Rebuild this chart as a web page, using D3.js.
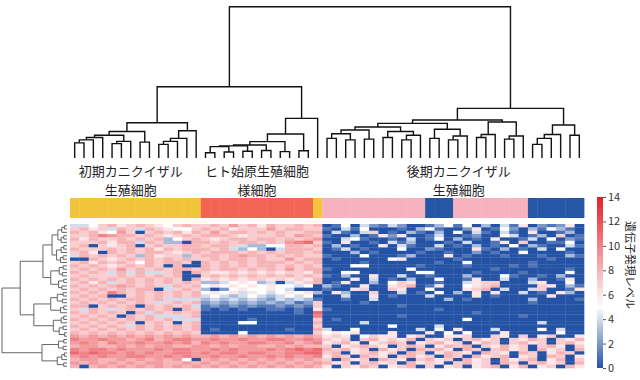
<!DOCTYPE html>
<html>
<head>
<meta charset="utf-8">
<script src="https://cdn.jsdelivr.net/npm/d3@7"></script>
<style>
  body { margin: 0; background: #fff; }
  text { font-family: "Noto Sans CJK JP", "Noto Sans", sans-serif; }
</style>
</head>
<body>
<svg width="640" height="380"></svg>
<script>
// column groups (annotation bar), left to right
var annoSegments = [["E", 14], ["H", 12], ["E", 1], ["P", 11], ["B", 3], ["P", 8], ["B", 6]];
var annoColors = { E: "#f2c43b", H: "#f26552", P: "#f7b2c0", B: "#2656a6" };

// group labels (two lines each) and their column centre
var groupLabels = [["初期カニクイザル", "生殖細胞"], ["ヒト始原生殖細胞", "様細胞"], ["後期カニクイザル", "生殖細胞"]];
var labelCenters = [6.5, 20, 41.6];

// colour bar ticks
var legendTicks = [0, 2, 4, 6, 8, 10, 12, 14];
var legendTitle = "遺伝子発現レベル";

// expression level per gene (row) x sample (column), hex digit 0..e = 0..14
// blocks: early(14) | hPGCLC(12) | 1 | late(28)
var exprRows = [
  "4457867 8765787|787978 687787|8|0150421 4200135 1503041 6021260",
  "7867487 4876557|878677 797887|7|1041500 0103510 0260152 0315310",
  "8786597 0787868|797887 878778|8|0410470 1031030 5041041 0600130",
  "778a988 7876787|888767 778798|7|1003016 2600140 0120054 0130701",
  "8687787 8783578|767887 887878|9|0045100 1040150 3010600 1405021",
  "7778688 4873308|878788 7879ab|7|1060010 4130001 0400160 7001150",
  "7807678 0787788|788743 355887|8|0301006 0410040 1030105 0310041",
  "8777878 7868788|878435 304888|7|0140100 0500210 0061030 1040500",
  "7860878 7887678|788878 787887|8|0003010 0001001 0020100 5000010",
  "4878787 3867737|887898 878787|7|1000500 0130006 0100010 0010031",
  "0087678 7878787|787887 877978|8|0100000 5600000 1000000 0001000",
  "7868787 5878870|878787 888787|8|0000100 0000010 0500000 0100000",
  "8787678 7870800|878787 887878|7|0005500 0001000 0100001 0100000",
  "7878797 8787887|878878 787978|8|1000000 0050000 0000100 0000010",
  "8787484 8447808|766767 676776|8|0055000 0005500 0010000 1000050",
  "7877787 8787800|787878 787878|7|1030060 0400100 0300051 0010300",
  "8787878 7878708|676767 767676|8|0006040 1030050 0160040 0300160",
  "7868478 7878787|334565 340467|8|0160030 5760010 0467700 0460050",
  "8787898 7874878|565656 565545|0|3100600 6780160 0567800 0076031",
  "7878787 8804787|302565 565400|0|1006700 7600500 0678040 0470016",
  "8787a87 8787878|565646 545656|3|0630070 0401050 3060600 4010630",
  "7878007 8787878|454345 434545|0|0040060 1000400 0060100 0006000",
  "8787878 8784444|343434 324343|1|0010040 0000003 0100000 0300001",
  "7878787 8747878|232323 232312|7|0000100 0000000 0000000 0100000",
  "8807878 0878784|121212 112121|7|0000000 0100000 0000000 0000000",
  "7487478 7878087|101010 011010|6|1000000 0000010 0000000 0000000",
  "8787870 8487878|000000 000010|b|0000000 0000000 0010000 0000000",
  "7878708 7844478|000000 000000|a|0000000 0100000 0000000 1000000",
  "8787878 7878444|000001 000000|7|0100000 0000000 0500000 0000000",
  "7878787 0787078|000055 000000|8|0000400 0000000 0000000 0040000",
  "8787874 8787878|000000 000000|7|0000000 5000040 0000000 0000000",
  "7878787 8787878|010000 000100|8|4005000 0004050 6000400 0050400",
  "8787878 7878787|000050 000000|7|5656000 6000605 0500060 0000500",
  "9898989 8989898|898989 898989|8|6760576 6067006 6700760 7067006",
  "a99a998 9a89aa9|9a99a9 9aa99a|9|7670786 7680767 0786707 6870768",
  "9a98a99 a99a9a8|a9a99a a99a89|a|6786067 8706786 7068707 8670786",
  "8998898 9899889|989899 889898|8|7067876 0787068 7807686 7078607",
  "a9aa9a9 99a9aa9|9a9a99 9a9aba|b|8786708 6708786 0870786 7086708",
  "babaa9a 9a99aa9|a9aa9a a99aab|b|7806786 7087068 7608760 8706870",
  "9a9a99a a99a9a9|9a99a9 9a9a99|a|6870876 0786708 7086780 6708706",
  "8998898 9898950|898989 898989|8|7086708 7607867 0867086 7806807",
  "9898989 8998898|989898 989898|9|8670786 7086760 7867087 0786708",
  "8089898 9898989|898989 898989|8|6076870 6780706 7067806 8067086"
];

// sample dendrogram: [left, right, height], leaf = column index
var colTree = [
  [
    [
      [[[[[0, 1, 1.0], 2, 1.2], 3, 1.35], [[4, 5, 0.95], 6, 1.1], 1.5], [7, 8, 1.05], 1.75],
      [[[[9, 10, 0.9], 11, 1.1], 12, 1.3], 13, 1.8],
      2.33
    ],
    [
      [[[[[[14, 15, 0.35], [16, 17, 0.4], 0.75], [18, 19, 0.45], 0.8], [20, 21, 0.5], 0.86], [22, 23, 0.42], 1.08], [24, 25, 0.48], 1.59],
      26,
      2.62
    ],
    4.71
  ],
  [
    [
      [
        [[[[27, 28, 1.3], [29, 30, 1.2], 1.6], [31, 32, 1.25], 1.85], [[33, 34, 1.35], [[35, 36, 1.2], 37, 1.5], 1.75], 2.05],
        [[38, 39, 1.3], [[40, 41, 1.2], 42, 1.45], 1.9],
        2.29
      ],
      [[[43, 44, 1.35], 45, 1.55], [[46, 47, 1.25], 48, 1.45], 2.38],
      2.51
    ],
    [[[[49, 50, 0.9], 51, 1.3], 52, 1.55], [53, 54, 1.5], 2.18],
    3.28
  ],
  10
];

// gene dendrogram: [top, bottom, height], leaf = row index
var rowTree = [
  [
    [
      [[[[0, 1, 0.4], 2, 0.8], [[3, 4, 0.5], 5, 0.9], 1.4], [[[6, 7, 0.5], 8, 0.9], [[9, 10, 0.6], 11, 1.0], 1.6], 2.3],
      [[[12, 13, 0.6], [14, 15, 0.7], 1.2], [[16, 17, 0.5], [18, 19, 0.8], 1.3], 2.5],
      3.7
    ],
    [
      [[[20, 21, 0.6], [22, 23, 0.7], 1.5], [[24, 25, 0.5], 26, 1.0], 2.5],
      [[[27, 28, 0.5], 29, 0.9], [[30, 31, 0.6], [32, 33, 0.4], 1.2], 2.1],
      5.1
    ],
    7.2
  ],
  [[[34, 35, 0.5], [36, 37, 0.6], 1.3], [[[38, 39, 0.4], 40, 0.8], [41, 42, 0.5], 1.5], 3.85],
  10
];

var matrix = exprRows.map(function (r) {
  return r.replace(/[ |]/g, "").split("").map(function (c) { return parseInt(c, 16); });
});
var nCols = matrix[0].length, nRows = matrix.length;

var colType = [];
annoSegments.forEach(function (s) { for (var i = 0; i < s[1]; i++) colType.push(s[0]); });

var svg = d3.select("svg");

var x = d3.scaleBand().domain(d3.range(nCols)).range([70, 584]);
var y = d3.scaleBand().domain(d3.range(nRows)).range([224, 368]);
var colPos = d3.scaleLinear().domain([0, nCols]).range([70, 584]);

var color = d3.scaleLinear()
  .domain([0, 5, 14])
  .range(["#2453a5", "#ffffff", "#e31e26"])
  .clamp(true);

// heatmap cells
var cells = [];
matrix.forEach(function (row, i) {
  row.forEach(function (v, j) { cells.push({ r: i, c: j, v: v }); });
});
svg.append("g")
  .selectAll("rect")
  .data(cells)
  .enter().append("rect")
  .attr("x", function (d) { return x(d.c); })
  .attr("y", function (d) { return y(d.r); })
  .attr("width", x.bandwidth() + 0.3)
  .attr("height", y.bandwidth() + 0.3)
  .attr("fill", function (d) { return color(d.v); });

// annotation bar
svg.append("g")
  .selectAll("rect")
  .data(colType)
  .enter().append("rect")
  .attr("x", function (d, i) { return x(i); })
  .attr("y", 198)
  .attr("width", x.bandwidth() + 0.4)
  .attr("height", 20)
  .attr("fill", function (d) { return annoColors[d]; });

// group labels
var lab = svg.append("g").attr("font-size", 13).attr("fill", "#222").attr("text-anchor", "middle");
groupLabels.forEach(function (lines, k) {
  lines.forEach(function (t, l) {
    lab.append("text")
      .attr("x", colPos(labelCenters[k]))
      .attr("y", 176 + l * 19)
      .text(t);
  });
});

// dendrogram helpers
function build(tree) {
  var root = d3.hierarchy(tree, function (d) { return Array.isArray(d) ? [d[0], d[1]] : null; });
  root.eachAfter(function (n) {
    n.h = n.children ? n.data[2] : 0;
  });
  return root;
}

// column dendrogram
var colRoot = build(colTree);
var hy = d3.scaleLinear().domain([0, 10]).range([158, 6.7]);
colRoot.eachAfter(function (n) {
  n.px = n.children ? (n.children[0].px + n.children[1].px) / 2 : x(n.data) + x.bandwidth() / 2;
});
svg.append("g")
  .selectAll("path")
  .data(colRoot.descendants().filter(function (n) { return n.children; }))
  .enter().append("path")
  .attr("fill", "none")
  .attr("stroke", "#111")
  .attr("stroke-width", 1.4)
  .attr("d", function (n) {
    var a = n.children[0], b = n.children[1];
    return "M" + a.px + "," + hy(a.h) + "V" + hy(n.h) + "H" + b.px + "V" + hy(b.h);
  });

// row dendrogram
var rowRoot = build(rowTree);
var hx = d3.scaleLinear().domain([0, 10]).range([67, 2]);
rowRoot.eachAfter(function (n) {
  n.py = n.children ? (n.children[0].py + n.children[1].py) / 2 : y(n.data) + y.bandwidth() / 2;
});
svg.append("g")
  .selectAll("path")
  .data(rowRoot.descendants().filter(function (n) { return n.children; }))
  .enter().append("path")
  .attr("fill", "none")
  .attr("stroke", "#666")
  .attr("stroke-width", 1)
  .attr("d", function (n) {
    var a = n.children[0], b = n.children[1];
    return "M" + hx(a.h) + "," + a.py + "H" + hx(n.h) + "V" + b.py + "H" + hx(b.h);
  });

// colour bar
var cy = d3.scaleLinear().domain([0, 14]).range([368, 197]);
var grad = svg.append("defs").append("linearGradient")
  .attr("id", "cbar").attr("x1", 0).attr("y1", 1).attr("x2", 0).attr("y2", 0);
grad.selectAll("stop")
  .data(d3.range(0, 14.01, 0.5))
  .enter().append("stop")
  .attr("offset", function (d) { return d / 14; })
  .attr("stop-color", function (d) { return color(d); });
svg.append("rect")
  .attr("x", 597).attr("y", cy(14))
  .attr("width", 6).attr("height", cy(0) - cy(14))
  .attr("fill", "url(#cbar)");

var axis = svg.append("g")
  .attr("transform", "translate(603,0)")
  .call(d3.axisRight(cy).tickValues(legendTicks).tickSize(3).tickPadding(2));
axis.select(".domain").remove();
axis.selectAll("line").attr("stroke", "#555");
axis.selectAll("text").attr("font-size", 11).attr("fill", "#333")
  .attr("font-family", "'Noto Sans CJK JP', sans-serif");

svg.append("text")
  .attr("transform", "translate(626,265) rotate(90)")
  .attr("text-anchor", "middle")
  .attr("font-size", 11)
  .attr("fill", "#222")
  .text(legendTitle);
</script>
</body>
</html>
